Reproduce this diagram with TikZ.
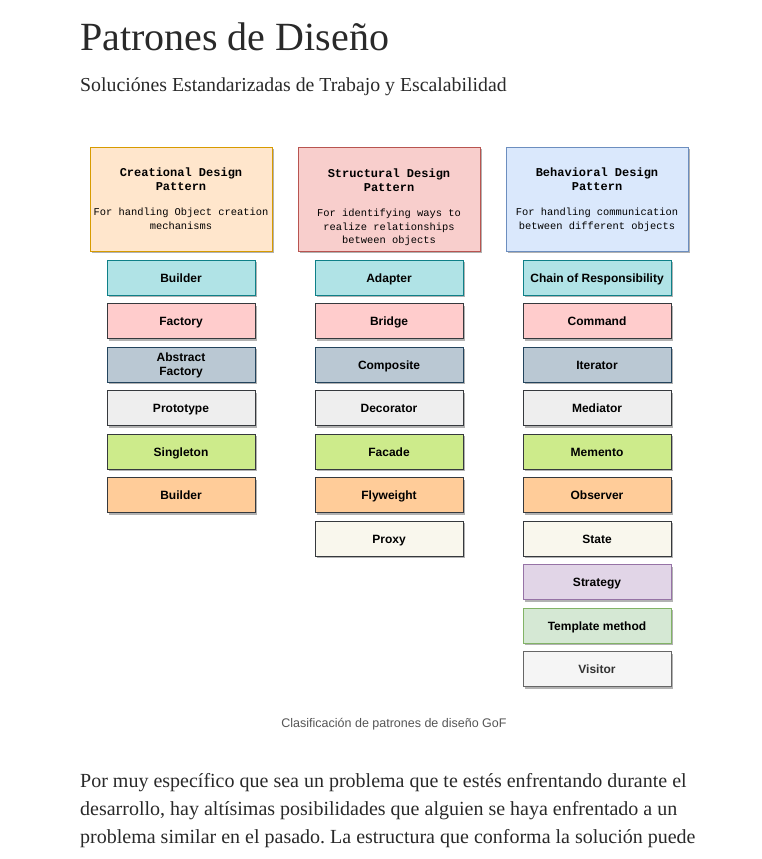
\documentclass[tikz,border=0pt]{standalone}
\usepackage{fontspec}
\setmainfont{Liberation Serif}
\newfontfamily\fuentemono{Liberation Mono}
\newfontfamily\fuentesans{Liberation Sans}
\usetikzlibrary{positioning, shadows}

\definecolor{textoOscuro}{HTML}{292929}
\definecolor{textoGris}{HTML}{555555}
\definecolor{bordeGris}{HTML}{36393D}

\frenchspacing
\begin{document}
\begin{tikzpicture}[
    x=1pt, y=-1pt,
    node distance=7.7pt,
    sombra/.style={drop shadow={shadow xshift=1.5pt, shadow yshift=-2pt, opacity=0.3, fill=black}},
    cabecera/.style={rectangle, draw, line width=0.8pt, minimum width=182pt, minimum height=104pt, sombra},
    titulo/.style={anchor=north, inner sep=0pt, align=center, font=\fuentemono\fontsize{12}{14}\selectfont},
    caja/.style={rectangle, draw=bordeGris, line width=0.8pt, minimum width=148pt, minimum height=35pt, inner sep=0pt, align=center, font=\fuentesans\bfseries\fontsize{12}{14}\selectfont, sombra},
    patron/.style={caja, text height=10pt, text depth=1pt},
    cian/.style={fill={rgb,255:red,176;green,227;blue,230}, draw={rgb,255:red,14;green,128;blue,136}},
    rosa/.style={fill={rgb,255:red,255;green,204;blue,204}},
    pizarra/.style={fill={rgb,255:red,186;green,200;blue,211}, draw={rgb,255:red,35;green,68;blue,93}},
    gris/.style={fill={rgb,255:red,238;green,238;blue,238}},
    lima/.style={fill={rgb,255:red,205;green,235;blue,139}},
    naranja/.style={fill={rgb,255:red,255;green,204;blue,153}},
    crema/.style={fill={rgb,255:red,249;green,247;blue,237}},
    lila/.style={fill={rgb,255:red,225;green,213;blue,231}, draw={rgb,255:red,150;green,115;blue,166}},
    menta/.style={fill={rgb,255:red,213;green,232;blue,212}, draw={rgb,255:red,130;green,179;blue,102}},
    humo/.style={fill={rgb,255:red,245;green,245;blue,245}, draw={rgb,255:red,102;green,102;blue,102}, text={rgb,255:red,51;green,51;blue,51}}
  ]
  \useasboundingbox (0,0) rectangle (762,859);

  % ---------------- Encabezado de la pagina ----------------
  \node (titular) [anchor=base west, inner sep=0pt, text=textoOscuro, font=\fontsize{40}{44}\selectfont] at (80,51) {Patrones de Diseño};
  \node (subtitular) [anchor=base west, inner sep=0pt, text=textoOscuro, font=\fontsize{19.8}{22}\selectfont] at (80,91) {Soluciónes Estandarizadas de Trabajo y Escalabilidad};

  % ---------------- Patrones Creacionales ----------------
  \node (cabCrea) [cabecera, fill={rgb,255:red,255;green,230;blue,204}, draw={rgb,255:red,215;green,155;blue,0}] at (181,199) {};
  \node (tituloCrea) [titulo, below=21pt of cabCrea.north] {\bfseries Creational Design\\\bfseries Pattern};
  \node (notaCrea) [titulo, font=\fuentemono\fontsize{10.4}{13.5}\selectfont, below=17pt of tituloCrea] {For handling Object creation\\mechanisms};

  \node (c1) [patron, cian, below=8.2pt of cabCrea] {Builder};
  \node (c2) [patron, rosa, below=of c1] {Factory};
  \node (c3) [caja, pizarra, below=of c2, text depth=1pt] {Abstract\\Factory};
  \node (c4) [patron, gris, below=of c3] {Prototype};
  \node (c5) [patron, lima, below=of c4] {Singleton};
  \node (c6) [patron, naranja, below=of c5] {Builder};

  % ---------------- Patrones Estructurales ----------------
  \node (cabEstr) [cabecera, fill={rgb,255:red,248;green,206;blue,204}, draw={rgb,255:red,184;green,84;blue,80}] at (389,199) {};
  \node (tituloEstr) [titulo, below=22pt of cabEstr.north] {\bfseries Structural Design\\\bfseries Pattern};
  \node (notaEstr) [titulo, font=\fuentemono\fontsize{10.4}{13.5}\selectfont, below=17pt of tituloEstr] {For identifying ways to\\realize relationships\\between objects};

  \node (s1) [patron, cian, below=8.2pt of cabEstr] {Adapter};
  \node (s2) [patron, rosa, below=of s1] {Bridge};
  \node (s3) [patron, pizarra, below=of s2] {Composite};
  \node (s4) [patron, gris, below=of s3] {Decorator};
  \node (s5) [patron, lima, below=of s4] {Facade};
  \node (s6) [patron, naranja, below=of s5] {Flyweight};
  \node (s7) [patron, crema, below=of s6] {Proxy};

  % ---------------- Patrones de Comportamiento ----------------
  \node (cabComp) [cabecera, fill={rgb,255:red,218;green,232;blue,252}, draw={rgb,255:red,108;green,142;blue,191}] at (597,199) {};
  \node (tituloComp) [titulo, below=21pt of cabComp.north] {\bfseries Behavioral Design\\\bfseries Pattern};
  \node (notaComp) [titulo, font=\fuentemono\fontsize{10.4}{13.5}\selectfont, below=17pt of tituloComp] {For handling communication\\between different objects};

  \node (b1) [patron, cian, below=8.2pt of cabComp] {Chain of Responsibility};
  \node (b2) [patron, rosa, below=of b1] {Command};
  \node (b3) [patron, pizarra, below=of b2] {Iterator};
  \node (b4) [patron, gris, below=of b3] {Mediator};
  \node (b5) [patron, lima, below=of b4] {Memento};
  \node (b6) [patron, naranja, below=of b5] {Observer};
  \node (b7) [patron, crema, below=of b6] {State};
  \node (b8) [patron, lila, below=of b7] {Strategy};
  \node (b9) [patron, menta, below=of b8] {Template method};
  \node (b10) [patron, humo, below=of b9] {Visitor};

  % Pie de figura y texto
  \node (pie) [anchor=base, inner sep=0pt, text=textoGris, font=\fuentesans\fontsize{12.5}{14}\selectfont] at (394,727) {Clasificación de patrones de diseño GoF};
  \node (cuerpo) [anchor=base west, inner sep=0pt, align=left, text=textoOscuro, font=\fontsize{20}{28}\selectfont] at (80,843) {Por muy específico que sea un problema que te estés enfrentando durante el\\desarrollo, hay altísimas posibilidades que alguien se haya enfrentado a un\\problema similar en el pasado. La estructura que conforma la solución puede};

\end{tikzpicture}
\end{document}
